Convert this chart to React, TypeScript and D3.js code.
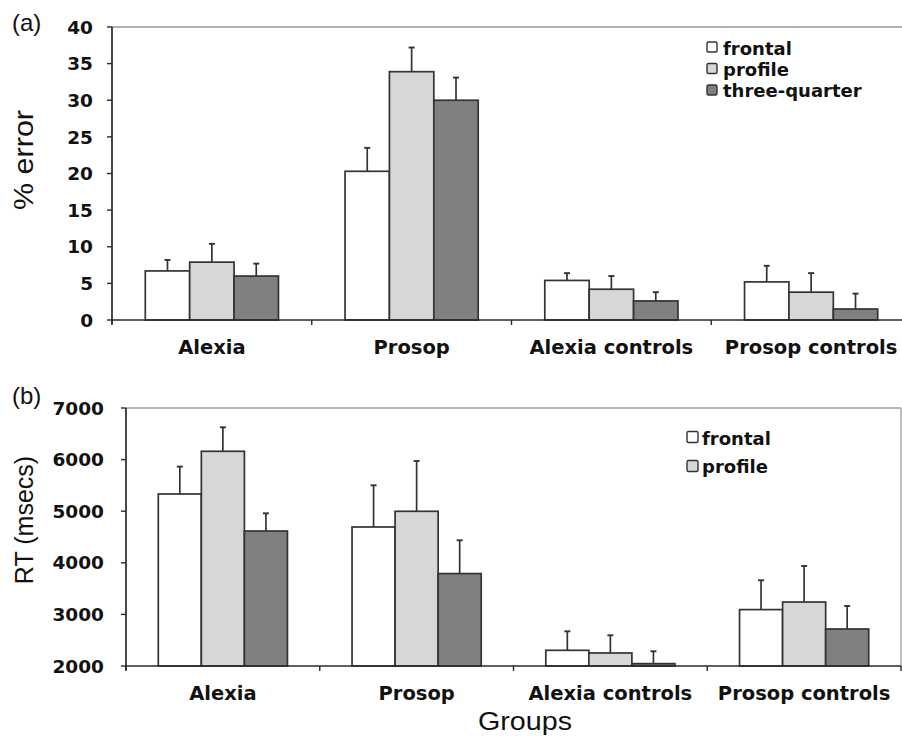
import React from "react";
import * as d3 from "d3";

const groups = ["Alexia", "Prosop", "Alexia controls", "Prosop controls"];
const seriesNames = ["frontal", "profile", "three-quarter"];
const seriesColors = ["#ffffff", "#d7d7d7", "#808080"];

// panel (a): % error
const errFrontal = [6.7, 20.3, 5.4, 5.2];
const errProfile = [7.9, 33.9, 4.2, 3.8];
const errThree = [6.0, 30.0, 2.6, 1.5];
const errFrontalSE = [8.2, 23.5, 6.4, 7.4];
const errProfileSE = [10.4, 37.2, 6.0, 6.4];
const errThreeSE = [7.7, 33.1, 3.8, 3.6];
const errTicks = [0, 5, 10, 15, 20, 25, 30, 35, 40];

// panel (b): RT (msecs)
const rtFrontal = [5333, 4694, 2304, 3093];
const rtProfile = [6161, 4998, 2252, 3240];
const rtThree = [4616, 3791, 2046, 2717];
const rtFrontalSE = [5864, 5502, 2672, 3661];
const rtProfileSE = [6626, 5973, 2595, 3938];
const rtThreeSE = [4959, 4436, 2285, 3163];
const rtTicks = [2000, 3000, 4000, 5000, 6000, 7000];

type Panel = {
  left: number;
  right: number;
  top: number;
  bottom: number;
  domain: [number, number];
  ticks: number[];
  vals: number[][];
  ses: number[][];
  labelRight: number;
  catBaseline: number;
  rightBorder: boolean;
  legendItems: number;
  legendX: number;
  legendSq: number;
  legendRows: number[];
  legendBase: number[];
  textX: number;
};

const AXIS = "#2a2a2a";
const BORDER = "#9a9a9a";
const BOLD = "'DejaVu Sans', Verdana, sans-serif";
const SANS = "'Liberation Sans', Arial, sans-serif";

function ChartPanel({ p }: { p: Panel }) {
  const x0 = d3.scaleBand<string>().domain(groups).range([p.left, p.right]).padding(0);
  const bw = x0.bandwidth();
  const x1 = d3.scaleBand<string>().domain(seriesNames).range([bw / 6, (bw * 5) / 6]).padding(0);
  const y = d3.scaleLinear().domain(p.domain).range([p.bottom, p.top]);
  const boundaries = groups.map((g) => x0(g)!).concat([p.right]);
  return (
    <g>
      <line x1={p.left} x2={p.right} y1={p.top} y2={p.top} stroke={BORDER} strokeWidth={1.3} />
      {p.rightBorder && (
        <line x1={p.right} x2={p.right} y1={p.top} y2={p.bottom} stroke={BORDER} strokeWidth={1.3} />
      )}
      {groups.map((g, gi) =>
        seriesNames.map((s, si) => {
          const v = p.vals[si][gi];
          const e = p.ses[si][gi];
          const bx = x0(g)! + x1(s)!;
          const w = x1.bandwidth();
          const cx = bx + w / 2;
          return (
            <g key={g + s}>
              <line x1={cx} x2={cx} y1={y(v)} y2={y(e)} stroke="#333" strokeWidth={1.7} />
              <line x1={cx - 3} x2={cx + 3} y1={y(e)} y2={y(e)} stroke="#333" strokeWidth={1.9} />
              <rect
                x={bx}
                y={y(v)}
                width={w}
                height={y(p.domain[0]) - y(v)}
                fill={seriesColors[si]}
                stroke="#333"
                strokeWidth={1.7}
              />
            </g>
          );
        })
      )}
      <line x1={p.left} x2={p.left} y1={p.top} y2={p.bottom + 4} stroke={AXIS} strokeWidth={1.7} />
      {p.ticks.map((t) => (
        <g key={t}>
          <line x1={p.left - 5} x2={p.left} y1={y(t)} y2={y(t)} stroke={AXIS} strokeWidth={1.4} />
          <text
            x={p.labelRight}
            y={y(t)}
            dy="0.36em"
            textAnchor="end"
            fontFamily={BOLD}
            fontWeight="bold"
            fontSize={18.5}
            fill="#111"
          >
            {t}
          </text>
        </g>
      ))}
      <line x1={p.left} x2={p.right} y1={p.bottom} y2={p.bottom} stroke={AXIS} strokeWidth={1.7} />
      {boundaries.map((b, i) => (
        <line key={i} x1={b} x2={b} y1={p.bottom} y2={p.bottom + 5} stroke={AXIS} strokeWidth={1.4} />
      ))}
      {groups.map((g) => (
        <text
          key={g}
          x={x0(g)! + bw / 2}
          y={p.catBaseline}
          textAnchor="middle"
          fontFamily={BOLD}
          fontWeight="bold"
          fontSize={19.5}
          fill="#111"
        >
          {g}
        </text>
      ))}
      {seriesNames.slice(0, p.legendItems).map((s, i) => (
        <g key={s}>
          <rect
            x={p.legendX}
            y={p.legendRows[i] - p.legendSq / 2}
            width={p.legendSq}
            height={p.legendSq}
            rx={1.5}
            fill={seriesColors[i]}
            stroke="#333"
            strokeWidth={1.4}
          />
          <text
            x={p.textX}
            y={p.legendBase[i]}
            fontFamily={BOLD}
            fontWeight="bold"
            fontSize={18}
            fill="#111"
          >
            {s}
          </text>
        </g>
      ))}
    </g>
  );
}

export default function App() {
  const panelA: Panel = {
    left: 112,
    right: 911,
    top: 27,
    bottom: 320,
    domain: [0, 40],
    ticks: errTicks,
    vals: [errFrontal, errProfile, errThree],
    ses: [errFrontalSE, errProfileSE, errThreeSE],
    labelRight: 93,
    catBaseline: 354,
    rightBorder: false,
    legendItems: 3,
    legendX: 707,
    legendSq: 10,
    legendRows: [47, 68.5, 90],
    legendBase: [55, 76, 97],
    textX: 723,
  };
  const panelB: Panel = {
    left: 126,
    right: 901,
    top: 408,
    bottom: 666,
    domain: [2000, 7000],
    ticks: rtTicks,
    vals: [rtFrontal, rtProfile, rtThree],
    ses: [rtFrontalSE, rtProfileSE, rtThreeSE],
    labelRight: 104,
    catBaseline: 700,
    rightBorder: true,
    legendItems: 2,
    legendX: 687,
    legendSq: 11,
    legendRows: [437, 466],
    legendBase: [445, 473],
    textX: 702,
  };
  return (
    <svg
      width={902}
      height={737}
      style={{ position: "absolute", left: 0, top: 0, background: "#fff" }}
    >
      <rect width={902} height={737} fill="#fff" />
      <ChartPanel p={panelA} />
      <ChartPanel p={panelB} />
      <text x={12} y={31} fontFamily={SANS} fontSize={24} fill="#111">
        (a)
      </text>
      <text x={12} y={404} fontFamily={SANS} fontSize={24} fill="#111">
        (b)
      </text>
      <text
        transform="translate(33,160) rotate(-90)"
        textAnchor="middle"
        fontFamily={SANS}
        fontSize={27}
        textLength={100}
        lengthAdjust="spacingAndGlyphs"
        fill="#111"
      >
        % error
      </text>
      <text
        transform="translate(33,520) rotate(-90)"
        textAnchor="middle"
        fontFamily={SANS}
        fontSize={25}
        fill="#111"
      >
        RT (msecs)
      </text>
      <text
        x={525}
        y={730}
        textAnchor="middle"
        fontFamily={SANS}
        fontSize={26}
        textLength={94}
        lengthAdjust="spacingAndGlyphs"
        fill="#111"
      >
        Groups
      </text>
    </svg>
  );
}
